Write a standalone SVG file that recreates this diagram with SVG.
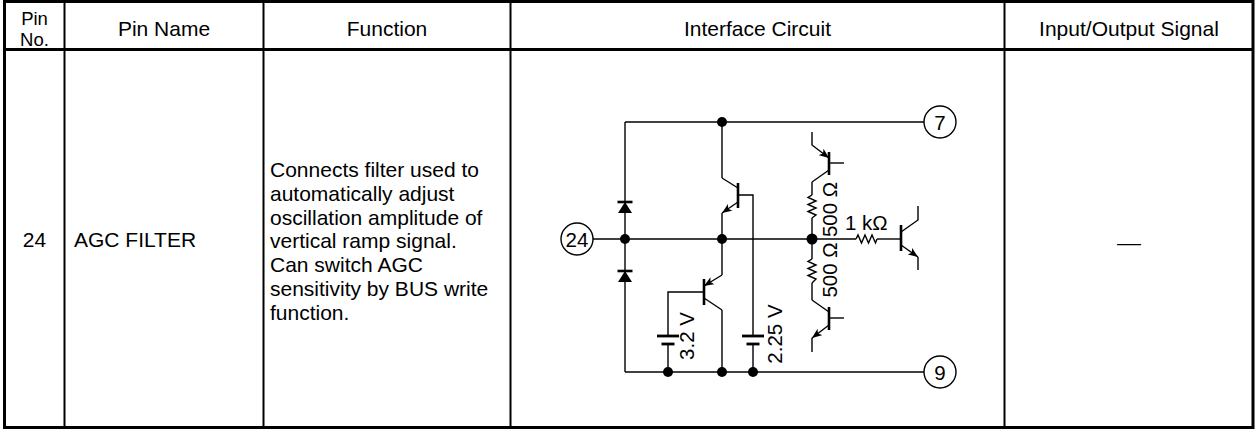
<svg xmlns="http://www.w3.org/2000/svg" width="1255" height="429" viewBox="0 0 1255 429">
<style>
.t{font-family:"Liberation Sans",Arial,sans-serif;font-size:21px;fill:#000}
.h2{font-family:"Liberation Sans",Arial,sans-serif;font-size:18.5px;fill:#000}
.c{font-family:"Liberation Sans",Arial,sans-serif;font-size:20.5px;fill:#000}
.m{text-anchor:middle}
.w{stroke:#000;stroke-width:1.4;fill:none;stroke-linejoin:miter}
.bar{stroke:#000;stroke-width:2.6;fill:none}
.plate{stroke:#000;stroke-width:2.8;fill:none}
.dot{fill:#000}
.tb{stroke:#000;fill:none}
</style>
<defs>
<marker id="arr" viewBox="0 0 10 8" refX="10" refY="4" markerWidth="10" markerHeight="8" markerUnits="userSpaceOnUse" orient="auto">
<path d="M0,0 L10,4 L0,8 L2.5,4 z" fill="#000"/>
</marker>
</defs>
<rect width="1255" height="429" fill="#fff"/>
<g id="table">
<rect class="tb" x="4.5" y="1.5" width="1248.5" height="426" stroke-width="3"/>
<line class="tb" x1="4.5" y1="49.5" x2="1253" y2="49.5" stroke-width="3"/>
<line class="tb" x1="64.5" y1="1.5" x2="64.5" y2="427.5" stroke-width="2"/>
<line class="tb" x1="263.5" y1="1.5" x2="263.5" y2="427.5" stroke-width="2"/>
<line class="tb" x1="510.5" y1="1.5" x2="510.5" y2="427.5" stroke-width="2"/>
<line class="tb" x1="1004.5" y1="1.5" x2="1004.5" y2="427.5" stroke-width="2"/>
<text class="h2 m" x="34.5" y="24.5">Pin</text>
<text class="h2 m" x="34.5" y="45.5">No.</text>
<text class="t m" x="164" y="36">Pin Name</text>
<text class="t m" x="387" y="36">Function</text>
<text class="t m" x="757.5" y="36">Interface Circuit</text>
<text class="t m" x="1129" y="36">Input/Output Signal</text>
<text class="t m" x="34.5" y="247">24</text>
<text class="t" x="74" y="247">AGC FILTER</text>
<text class="t" x="270" y="177">Connects filter used to</text>
<text class="t" x="270" y="200.8">automatically adjust</text>
<text class="t" x="270" y="224.6">oscillation amplitude of</text>
<text class="t" x="270" y="248.4">vertical ramp signal.</text>
<text class="t" x="270" y="272.2">Can switch AGC</text>
<text class="t" x="270" y="296">sensitivity by BUS write</text>
<text class="t" x="270" y="319.8">function.</text>
<text class="t" x="1117" y="250" textLength="24" lengthAdjust="spacingAndGlyphs">—</text>
</g>
<g id="connectors">
<path class="w" d="M625,122 H924"/>
<path class="w" d="M625,122 V372"/>
<path class="w" d="M625,372 H924"/>
<path class="w" d="M593,239 H812"/>
<path class="w" d="M722,122 V178"/>
<path class="w" d="M722,213 V275"/>
<path class="w" d="M722,310 V372"/>
<path class="w" d="M738,195 H753 V336"/>
<path class="w" d="M753,344 V372"/>
<path class="w" d="M704,292 H668 V336"/>
<path class="w" d="M668,344 V372"/>
<path class="w" d="M812,182 V195"/>
<path class="w" d="M812,218 V259"/>
<path class="w" d="M812,283 V300"/>
<path class="w" d="M812,239 H856"/>
<path class="w" d="M877,239 H901"/>
</g>
<g id="T24">
<circle class="w" cx="577" cy="239" r="16"/>
<text class="c m" x="577" y="246.5">24</text>
</g>
<g id="T7">
<circle class="w" cx="940" cy="122" r="16"/>
<text class="c m" x="940" y="129.5">7</text>
</g>
<g id="T9">
<circle class="w" cx="940" cy="372" r="16"/>
<text class="c m" x="940" y="379.5">9</text>
</g>
<g id="D1">
<line class="bar" x1="617.5" y1="202" x2="632.5" y2="202" stroke-width="2"/>
<polygon points="625,202 618,213 632,213" fill="#000"/>
</g>
<g id="D2">
<line class="bar" x1="617.5" y1="271" x2="632.5" y2="271" stroke-width="2"/>
<polygon points="625,271 618,282 632,282" fill="#000"/>
</g>
<g id="Q1">
<path class="w" d="M722,178 L738,188"/>
<line class="bar" x1="738" y1="183" x2="738" y2="208"/>
<path class="w" d="M738,202 L722,213" marker-end="url(#arr)"/>
</g>
<g id="Q2">
<path class="w" d="M722,275 L704,286" marker-end="url(#arr)"/>
<line class="bar" x1="704" y1="279" x2="704" y2="305"/>
<path class="w" d="M704,298 L722,310"/>
</g>
<g id="B1">
<line class="plate" x1="657" y1="336" x2="679" y2="336"/>
<line class="plate" x1="661.5" y1="344" x2="674.5" y2="344"/>
<text class="c m" transform="translate(694,336) rotate(-90)">3.2 V</text>
</g>
<g id="B2">
<line class="plate" x1="742" y1="336" x2="764" y2="336"/>
<line class="plate" x1="746.5" y1="344" x2="759.5" y2="344"/>
<text class="c m" transform="translate(782,334) rotate(-90)">2.25 V</text>
</g>
<g id="Q3">
<path class="w" d="M812,132 V145 L829,158" marker-end="url(#arr)"/>
<line class="bar" x1="829" y1="152" x2="829" y2="175"/>
<path class="w" d="M829,163 H844"/>
<path class="w" d="M829,170 L812,182"/>
</g>
<g id="R1">
<path class="w" d="M812,195 L808,197.5 L816,201 L808,204.5 L816,208 L808,211.5 L816,215 L812,218"/>
<text class="c m" transform="translate(837,209.5) rotate(-90)">500 Ω</text>
</g>
<g id="R2">
<path class="w" d="M812,259 L808,261.5 L816,265 L808,268.5 L816,272 L808,275.5 L816,279 L812,283"/>
<text class="c m" transform="translate(837,270) rotate(-90)">500 Ω</text>
</g>
<g id="Q4">
<path class="w" d="M812,300 L829,312"/>
<line class="bar" x1="829" y1="307" x2="829" y2="330"/>
<path class="w" d="M829,318 H844"/>
<path class="w" d="M829,325 L812,338" marker-end="url(#arr)"/>
<path class="w" d="M812,338 V352"/>
</g>
<g id="R3">
<path class="w" d="M856,239 L858,235 L861.5,243 L865,235 L868.5,243 L872,235 L875.5,243 L877,239"/>
<text class="c" x="845" y="230">1 kΩ</text>
</g>
<g id="Q5">
<line class="bar" x1="901" y1="225" x2="901" y2="251"/>
<path class="w" d="M901,232 L918,220 V206"/>
<path class="w" d="M901,245 L918,257" marker-end="url(#arr)"/>
<path class="w" d="M918,257 V270"/>
</g>
<g id="junctions">
<circle class="dot" cx="722" cy="122" r="5"/>
<circle class="dot" cx="625" cy="239" r="5"/>
<circle class="dot" cx="722" cy="239" r="5"/>
<circle class="dot" cx="812" cy="239" r="5.5"/>
<circle class="dot" cx="668" cy="372" r="5"/>
<circle class="dot" cx="722" cy="372" r="5"/>
<circle class="dot" cx="753" cy="372" r="5"/>
</g>
</svg>
